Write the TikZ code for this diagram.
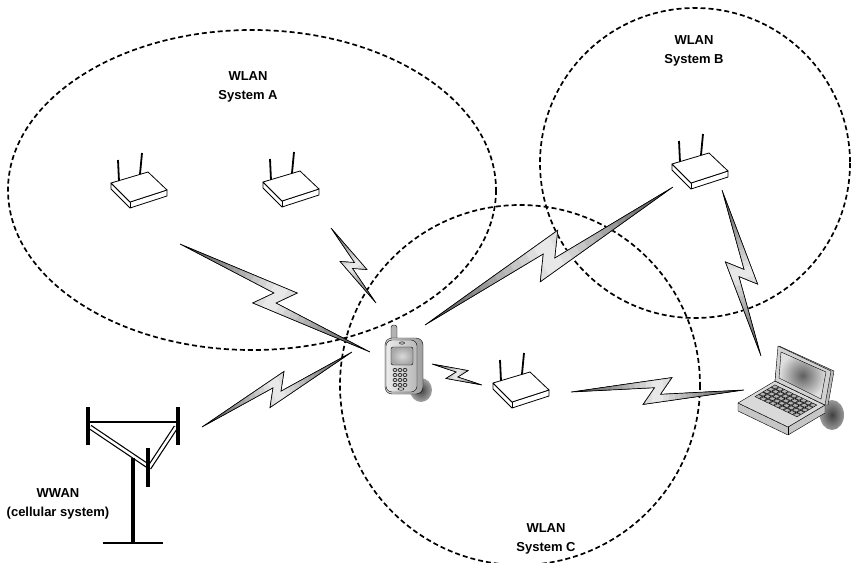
\documentclass[tikz,border=0pt]{standalone}
\usepackage{fontspec}
\setmainfont{Liberation Sans}
\usetikzlibrary{calc}

% radio link between two named points, drawn as a shaded zig-zag
\newcommand\zap[2]{%
  \pgfpointdiff{\pgfpointanchor{#1}{center}}{\pgfpointanchor{#2}{center}}%
  \pgfgetlastxy{\zx}{\zy}%
  \pgfmathsetmacro\zang{atan2(\zy,\zx)-90}%
  \pgfmathsetmacro\zlen{veclen(\zx,\zy)}%
  \pgfmathsetmacro\zm{\zlen/2}%
  \pgfmathsetmacro\za{6+0.05*\zlen}%
  \pgfmathsetmacro\zh{5.5+0.045*\zlen}%
  \begin{scope}[x=1pt, y=1pt, transform canvas={shift={(#1)},rotate=\zang}]
    \path[bolt, path picture={
        \foreach \k in {0,...,14} {
          \pgfmathsetmacro\zd{\zm*(1-\k/15)}
          \pgfmathtruncatemacro\zc{72-4.5*\k}
          \fill[black!\zc] (-40,{\zm-\zd}) rectangle (40,{\zm+\zd});
        }}]
      (0,0) -- ({-\zh},{\zm+\za}) -- ({0.25*\zh},{\zm+0.2*\za})
      -- (0,\zlen) -- ({\zh},{\zm-\za}) -- ({-0.25*\zh},{\zm-0.2*\za}) -- cycle;
  \end{scope}}

\tikzset{
  zone/.style={dash pattern=on 5pt off 3pt, line width=1.7pt},
  tag/.style={align=center, font=\bfseries\fontsize{13}{19}\selectfont},
  bolt/.style={draw=black, line width=0.7pt, line join=miter},
  bar/.style={line width=4.5pt},
  router/.pic={
    \draw[fill=white, line width=0.8pt, line join=round] (-28,-2) -- (-28,4) -- (-9,23) -- (28,11) -- (28,5) -- (-9,17) -- cycle;
    \draw[line width=0.8pt] (-9,17) -- (-9,23);
    \draw[fill=white, line width=0.8pt, line join=round] (-28,-2) -- (9,-13) -- (28,5) -- (-9,17) -- cycle;
    \draw[line width=1.8pt] (-20,-4) -- (-21,-25);
    \draw[line width=1.8pt] (1,-11) -- (3,-32);
  },
  phone/.pic={
    \shade[inner color=black!75, outer color=black!35] (17,24) ellipse [x radius=11, y radius=12];
    \draw[fill=gray!60, rounded corners=2.5pt] (-13,-41) rectangle (-7,-24);
    \draw[rounded corners=7pt, left color=gray!30, right color=gray!75] (-19,-28) rectangle (19,28);
    \draw[rounded corners=6pt, left color=gray!15, right color=gray!55] (-18,-26) rectangle (13,26);
    \shade[draw, rounded corners=2pt, inner color=gray!30, outer color=gray!70] (-13,-19) rectangle (9,-1);
    \draw[fill=gray!50] (-2,-23) ellipse [x radius=2.5, y radius=1.2];
    \foreach \r in {0,...,3}
      \foreach \c in {0,...,2}
        \draw[fill=gray!45, line width=0.5pt] ({-9+5*\c},{4+5*\r}) ellipse [x radius=2, y radius=1.6];
    \draw[fill=gray!40] (-3,23) ellipse [x radius=3, y radius=1.3];
  },
  laptop/.pic={
    \shade[inner color=black!75, outer color=black!40] (47,22) ellipse [x radius=12, y radius=15];
    \draw[fill=gray!45, line join=round] (-47,10) -- (-47,18) -- (3,42) -- (40,20) -- (40,12) -- (3,34) -- cycle;
    \draw (3,34) -- (3,42);
    \draw[fill=gray!30, line join=round] (-47,10) -- (-10,-12) -- (40,12) -- (3,34) -- cycle;
    % keyboard
    \begin{scope}[shift={(-10,-12)}, x={(-37pt,-22pt)}, y={(50pt,-24pt)}]
      \foreach \i in {0,...,4}
        \foreach \j in {0,...,8}
          \draw[fill=gray!60, line width=0.4pt]
            ({0.1+0.11*\i},{0.07+0.095*\j}) -- ({0.195+0.11*\i},{0.07+0.095*\j})
            -- ({0.195+0.11*\i},{0.15+0.095*\j}) -- ({0.1+0.11*\i},{0.15+0.095*\j}) -- cycle;
    \end{scope}
    % lid
    \draw[fill=gray!55, line join=round] (-10,-12) -- (-6,-47) -- (49,-22) -- (43,12) -- (40,12) -- cycle;
    \draw[fill=gray!35, line join=round] (-10,-12) -- (-7,-47) -- (46,-22) -- (40,12) -- cycle;
    \shade[draw, inner color=gray!75!black, outer color=gray!25] (-6,-15) -- (-4,-41) -- (41,-21) -- (36,6) -- cycle;
  },
}

\begin{document}
\begin{tikzpicture}[x=1pt, y=-1pt]
\useasboundingbox (0,0) rectangle (859,562);

% coverage areas
\draw[zone] (252,190) ellipse [x radius=244, y radius=160];
\draw[zone] (695,163) circle [radius=155];
\draw[zone] (520,385) circle [radius=180];

% devices
\coordinate (apA1) at (139,185);
\coordinate (apA2) at (291,184);
\coordinate (apB) at (700,166);
\coordinate (apC) at (521,385);
\coordinate (phone) at (404,366);
\coordinate (laptop) at (785,393);

% link end points
\coordinate (apA1-l) at (180,244);  \coordinate (phone-a1) at (370,352);
\coordinate (apA2-l) at (331,228);  \coordinate (phone-a2) at (376,303);
\coordinate (phone-b) at (425,325); \coordinate (apB-l) at (673,187);
\coordinate (apB-r) at (722,190);   \coordinate (laptop-b) at (761,356);
\coordinate (bts-l) at (202,427);   \coordinate (phone-w) at (352,352);
\coordinate (phone-c) at (432,364); \coordinate (apC-l) at (482,385);
\coordinate (apC-r) at (571,392);   \coordinate (laptop-c) at (744,390);

\zap{apA1-l}{phone-a1}
\zap{apA2-l}{phone-a2}
\zap{phone-b}{apB-l}
\zap{apB-r}{laptop-b}
\zap{bts-l}{phone-w}
\zap{phone-c}{apC-l}
\zap{apC-r}{laptop-c}

\pic at (apA1) {router};
\pic at (apA2) {router};
\pic at (apB) {router};
\pic at (apC) {router};
\pic at (phone) {phone};
\pic at (laptop) {laptop};

% cell tower
\draw[line width=1.6pt] (88,422) -- (178,422);
\draw[double, double distance=2.5pt, line width=1.2pt] (90,427) -- (148,466);
\draw[double, double distance=2.5pt, line width=1.2pt] (176,427) -- (149,468);
\draw[bar] (88,407) -- (88,445);
\draw[bar] (178,407) -- (178,445);
\draw[bar] (148,448) -- (148,487);
\draw[line width=4pt] (133,458) -- (133,543);
\draw[line width=1.5pt] (103,543) -- (163,543);

% labels
\node[tag] (lblA) at (248,87) {WLAN\\System A};
\node[tag] (lblB) at (694,51) {WLAN\\System B};
\node[tag] (lblC) at (546,539) {WLAN\\System C};
\node[tag] (lblW) at (58,504) {WWAN\\(cellular system)};
\end{tikzpicture}
\end{document}
